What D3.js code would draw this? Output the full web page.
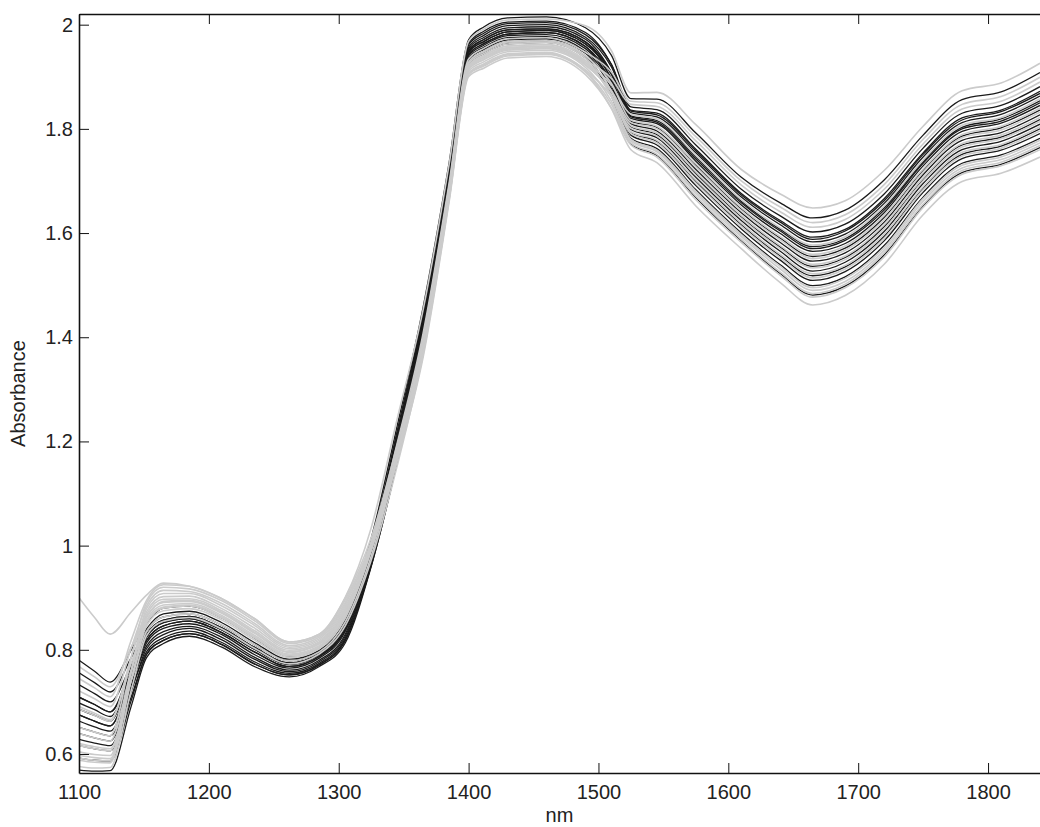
<!DOCTYPE html>
<html>
<head>
<meta charset="utf-8">
<script src="https://cdn.jsdelivr.net/npm/d3@7"></script>
<style>
body { margin: 0; background: #fff; }
svg text { font-family: "Liberation Sans", Arial, Helvetica, sans-serif; fill: #222; }
</style>
</head>
<body>
<svg id="chart"></svg>
<script>
const WIDTH = 1040;
const HEIGHT = 827;

const wavelengths = [1100, 1112, 1124, 1140, 1152, 1165, 1185, 1210, 1235, 1262, 1285, 1305, 1325, 1345, 1365, 1385, 1400, 1412,
    1430, 1460, 1490, 1510, 1525, 1545, 1575, 1610, 1640, 1665, 1690, 1720, 1750, 1780, 1810, 1840];

const xTicks = [1100, 1200, 1300, 1400, 1500, 1600, 1700, 1800];
const yTicks = [0.6, 0.8, 1, 1.2, 1.4, 1.6, 1.8, 2];

// absorbance of the dark spectra
const blackSpectra = [
    [.569,.567,.568,.690,.785,.812,.826,.805,.768,.748,.768,.813,.960,1.161,1.400,1.690,1.928,1.949,1.967,1.969,1.940,1.863,1.771,1.749,1.668,1.585,1.522,1.481,1.498,1.558,1.652,1.716,1.732,1.764],
    [.780,.759,.738,.799,.851,.880,.884,.861,.823,.788,.805,.865,1.014,1.230,1.458,1.735,1.971,1.996,2.013,2.015,1.994,1.941,1.858,1.857,1.792,1.707,1.658,1.629,1.644,1.702,1.788,1.856,1.871,1.908],
    [.663,.652,.644,.734,.807,.835,.845,.824,.786,.761,.780,.830,.979,1.196,1.429,1.713,1.950,1.972,1.990,1.992,1.967,1.908,1.825,1.816,1.746,1.661,1.607,1.574,1.589,1.648,1.737,1.803,1.819,1.854],
    [.698,.685,.672,.756,.824,.852,.860,.838,.801,.772,.790,.844,.992,1.201,1.434,1.717,1.954,1.976,1.994,1.996,1.972,1.908,1.820,1.810,1.738,1.654,1.599,1.565,1.580,1.639,1.729,1.795,1.811,1.845],
    [.628,.621,.616,.719,.802,.829,.841,.819,.782,.758,.777,.826,.974,1.184,1.420,1.705,1.943,1.964,1.982,1.985,1.958,1.897,1.815,1.803,1.730,1.646,1.590,1.555,1.571,1.630,1.720,1.786,1.802,1.836],
    [.709,.695,.681,.766,.835,.863,.869,.847,.810,.779,.796,.853,1.000,1.213,1.444,1.724,1.961,1.984,2.002,2.004,1.981,1.924,1.842,1.837,1.769,1.684,1.633,1.602,1.617,1.675,1.763,1.830,1.845,1.881],
    [.675,.663,.654,.744,.818,.846,.855,.833,.796,.768,.787,.839,.983,1.184,1.415,1.702,1.940,1.961,1.979,1.981,1.954,1.891,1.810,1.796,1.722,1.639,1.582,1.546,1.562,1.621,1.712,1.778,1.793,1.827],
    [.639,.631,.625,.730,.813,.841,.850,.829,.791,.765,.784,.835,.981,1.191,1.425,1.709,1.947,1.968,1.986,1.989,1.963,1.908,1.831,1.823,1.754,1.669,1.616,1.583,1.598,1.657,1.746,1.812,1.828,1.863],
    [.733,.716,.700,.770,.829,.857,.864,.842,.805,.775,.793,.848,.994,1.209,1.439,1.720,1.957,1.980,1.998,2.000,1.976,1.919,1.836,1.830,1.761,1.676,1.624,1.592,1.607,1.666,1.754,1.821,1.836,1.872],
    [.651,.642,.635,.723,.796,.823,.836,.814,.777,.755,.774,.822,.968,1.174,1.410,1.698,1.936,1.957,1.975,1.977,1.949,1.886,1.804,1.789,1.714,1.631,1.573,1.536,1.553,1.612,1.703,1.769,1.784,1.818],
    [.686,.674,.663,.756,.829,.857,.864,.842,.805,.775,.793,.848,.992,1.201,1.429,1.713,1.950,1.972,1.990,1.992,1.967,1.894,1.799,1.783,1.707,1.624,1.565,1.527,1.544,1.603,1.695,1.760,1.776,1.809],
    [.616,.610,.606,.708,.791,.818,.831,.810,.773,.752,.771,.818,.963,1.168,1.405,1.694,1.932,1.953,1.971,1.973,1.945,1.877,1.793,1.776,1.699,1.616,1.556,1.518,1.535,1.594,1.686,1.751,1.767,1.800],
    [.756,.737,.719,.784,.840,.869,.874,.852,.814,.782,.799,.857,1.003,1.220,1.448,1.728,1.964,1.988,2.005,2.007,1.985,1.923,1.834,1.827,1.758,1.673,1.621,1.588,1.604,1.662,1.751,1.817,1.833,1.868],
    [.709,.695,.681,.756,.818,.846,.855,.833,.796,.768,.787,.839,.983,1.190,1.420,1.705,1.943,1.964,1.982,1.985,1.958,1.883,1.788,1.769,1.691,1.608,1.548,1.509,1.526,1.585,1.678,1.743,1.759,1.791],
    [.592,.588,.587,.701,.791,.818,.831,.810,.773,.752,.771,.818,.961,1.161,1.396,1.687,1.925,1.945,1.963,1.966,1.936,1.866,1.782,1.762,1.683,1.600,1.539,1.499,1.516,1.576,1.669,1.734,1.750,1.782],
    [.675,.663,.654,.748,.824,.852,.860,.838,.801,.772,.790,.844,.988,1.196,1.425,1.709,1.947,1.968,1.986,1.989,1.963,1.904,1.823,1.813,1.742,1.658,1.604,1.570,1.586,1.644,1.734,1.800,1.815,1.850]
];

// absorbance of the light grey spectra
const graySpectra = [
    [.900,.862,.830,.872,.905,.928,.922,.898,.860,.815,.830,.900,1.034,1.243,1.453,1.732,1.968,1.992,2.009,2.011,1.998,1.950,1.869,1.870,1.808,1.722,1.675,1.648,1.662,1.720,1.805,1.873,1.888,1.926],
    [.604,.599,.597,.756,.868,.897,.898,.875,.837,.799,.815,.879,.993,1.165,1.367,1.664,1.904,1.921,1.940,1.943,1.909,1.839,1.760,1.735,1.652,1.570,1.505,1.462,1.480,1.540,1.635,1.699,1.715,1.746],
    [.588,.584,.583,.757,.879,.908,.908,.884,.847,.805,.821,.887,1.002,1.176,1.377,1.672,1.911,1.929,1.948,1.951,1.918,1.853,1.777,1.756,1.676,1.593,1.531,1.490,1.507,1.567,1.661,1.725,1.741,1.773],
    [.616,.610,.606,.756,.862,.891,.893,.870,.832,.795,.811,.874,.996,1.178,1.386,1.679,1.918,1.937,1.955,1.958,1.927,1.865,1.791,1.773,1.696,1.613,1.553,1.514,1.531,1.590,1.683,1.748,1.763,1.796],
    [.651,.642,.635,.784,.890,.920,.917,.894,.856,.812,.827,.896,1.006,1.176,1.372,1.668,1.907,1.925,1.944,1.947,1.913,1.862,1.801,1.786,1.711,1.628,1.570,1.533,1.549,1.608,1.700,1.765,1.781,1.814],
    [.592,.588,.587,.741,.851,.880,.884,.861,.823,.788,.805,.865,.992,1.178,1.391,1.683,1.921,1.941,1.959,1.962,1.931,1.862,1.780,1.759,1.680,1.597,1.536,1.495,1.513,1.572,1.666,1.730,1.746,1.778],
    [.721,.706,.691,.802,.884,.914,.912,.889,.851,.808,.824,.891,1.006,1.182,1.381,1.675,1.914,1.933,1.951,1.954,1.922,1.873,1.812,1.800,1.727,1.643,1.587,1.551,1.567,1.626,1.717,1.783,1.798,1.832],
    [.639,.631,.625,.759,.857,.886,.889,.866,.828,.792,.808,.870,.996,1.184,1.396,1.687,1.925,1.945,1.963,1.966,1.936,1.873,1.795,1.778,1.702,1.619,1.559,1.522,1.538,1.598,1.689,1.755,1.770,1.804],
    [.686,.674,.663,.784,.873,.902,.903,.879,.842,.802,.818,.883,.994,1.163,1.362,1.660,1.900,1.917,1.936,1.939,1.904,1.840,1.769,1.746,1.664,1.582,1.519,1.477,1.495,1.554,1.649,1.713,1.729,1.760],
    [.597,.593,.591,.739,.846,.875,.879,.857,.819,.785,.802,.861,.992,1.184,1.400,1.690,1.928,1.949,1.967,1.969,1.940,1.887,1.817,1.805,1.733,1.649,1.593,1.559,1.575,1.634,1.723,1.789,1.805,1.840],
    [.745,.727,.710,.817,.895,.925,.922,.898,.860,.815,.830,.900,1.015,1.193,1.391,1.683,1.921,1.941,1.959,1.962,1.931,1.897,1.847,1.843,1.777,1.692,1.641,1.611,1.626,1.684,1.771,1.838,1.853,1.890],
    [.620,.614,.610,.739,.835,.863,.869,.847,.810,.779,.796,.853,.980,1.166,1.383,1.677,1.916,1.934,1.953,1.956,1.924,1.871,1.806,1.792,1.718,1.634,1.576,1.540,1.556,1.616,1.706,1.772,1.788,1.822],
    [.768,.748,.729,.804,.864,.893,.895,.872,.834,.796,.813,.876,1.004,1.196,1.408,1.696,1.934,1.955,1.973,1.975,1.947,1.909,1.853,1.850,1.785,1.700,1.650,1.620,1.635,1.693,1.780,1.847,1.862,1.899],
    [.576,.573,.574,.720,.827,.855,.862,.840,.803,.773,.792,.846,.972,1.153,1.370,1.666,1.906,1.923,1.942,1.945,1.911,1.847,1.773,1.751,1.671,1.588,1.525,1.484,1.502,1.562,1.655,1.720,1.736,1.768],
    [.691,.678,.666,.773,.853,.882,.886,.863,.825,.790,.806,.867,.992,1.176,1.387,1.680,1.918,1.938,1.956,1.959,1.927,1.884,1.828,1.819,1.749,1.664,1.610,1.577,1.593,1.652,1.740,1.807,1.822,1.858]
];

window.onload = function(){
    makeChart();
};

function makeChart(){
    const svg = d3.select('#chart')
        .attr('width', WIDTH)
        .attr('height', HEIGHT);

    const left = 79, top = 14, right = 1040, bottom = 773;

    const x = d3.scaleLinear().domain([1100, 1840]).range([left, right]);
    const y = d3.scaleLinear().domain([0.5635, 2.0205]).range([bottom, top]);

    svg.append('defs').append('clipPath')
        .attr('id', 'plot-clip')
        .append('rect')
        .attr('x', left).attr('y', top)
        .attr('width', right - left).attr('height', bottom - top);

    const line = d3.line()
        .x((d, i) => x(wavelengths[i]))
        .y(d => y(d))
        .curve(d3.curveMonotoneX);

    const lines = svg.append('g').attr('clip-path', 'url(#plot-clip)');

    // dark spectra first, grey ones drawn over them
    lines.selectAll('path.dark')
        .data(blackSpectra)
        .enter()
        .append('path')
        .attr('class', 'dark')
        .attr('d', line)
        .style('fill', 'none')
        .style('stroke', '#1b1b1b')
        .style('stroke-width', 1.3);

    lines.selectAll('path.light')
        .data(graySpectra)
        .enter()
        .append('path')
        .attr('class', 'light')
        .attr('d', line)
        .style('fill', 'none')
        .style('stroke', '#cbcbcb')
        .style('stroke-width', 1.6);

    // axes, ticks pointing inwards
    const xAxis = svg.append('g')
        .attr('transform', 'translate(0,' + bottom + ')')
        .call(d3.axisBottom(x).tickValues(xTicks).tickSizeInner(-10).tickSizeOuter(0).tickPadding(12).tickFormat(d3.format('d')));

    const xTop = svg.append('g')
        .attr('transform', 'translate(0,' + top + ')')
        .call(d3.axisTop(x).tickValues(xTicks).tickSizeInner(-10).tickSizeOuter(0).tickFormat(''));

    const yAxis = svg.append('g')
        .attr('transform', 'translate(' + left + ',0)')
        .call(d3.axisLeft(y).tickValues(yTicks).tickSizeInner(-10).tickSizeOuter(0).tickPadding(6).tickFormat(d => String(d)));

    [xAxis, xTop, yAxis].forEach(g => {
        g.select('.domain').style('stroke', '#111').style('stroke-width', 1.6);
        g.selectAll('.tick line').style('stroke', '#111').style('stroke-width', 1);
        g.selectAll('.tick text').style('font-size', '20px').style('fill', '#222');
        g.attr('font-family', null);
    });

    svg.append('text')
        .attr('transform', 'translate(18,' + ((top + bottom) / 2) + ') rotate(-90)')
        .attr('text-anchor', 'middle')
        .attr('dominant-baseline', 'central')
        .style('font-size', '20px')
        .text('Absorbance');

    svg.append('text')
        .attr('x', (left + right) / 2)
        .attr('y', 822)
        .attr('text-anchor', 'middle')
        .style('font-size', '20px')
        .text('nm');
}
</script>
</body>
</html>
